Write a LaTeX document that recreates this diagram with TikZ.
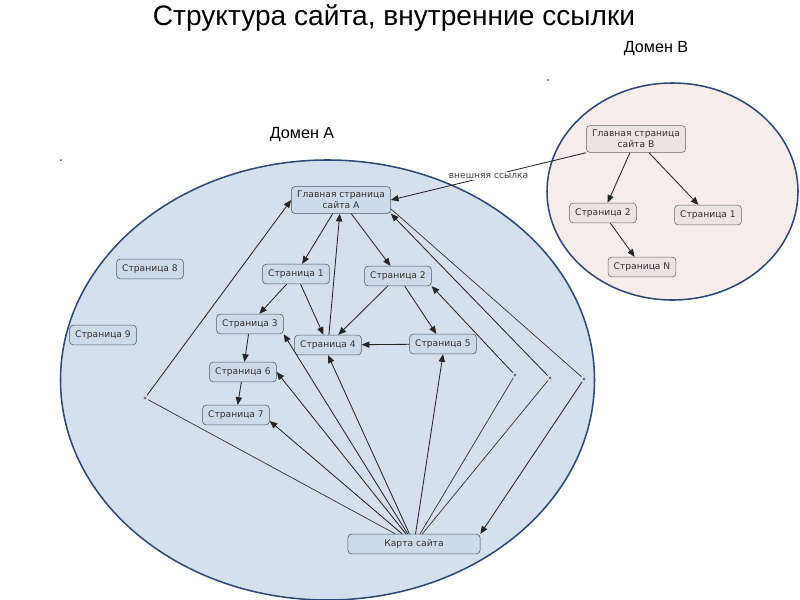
\documentclass[tikz,border=0pt]{standalone}
\usepackage{fontspec}
\setmainfont{Liberation Sans}
\newfontfamily\mapfont{DejaVu Sans}
\usetikzlibrary{arrows.meta,positioning}

\definecolor{domAfill}{HTML}{D5E0EE}
\definecolor{domBfill}{HTML}{F8EDEB}
\definecolor{domline}{HTML}{2F4A78}
\definecolor{pageAfill}{HTML}{CDDAEA}
\definecolor{pageBfill}{HTML}{EBE4E3}
\definecolor{pageline}{HTML}{4A5868}

\begin{document}
\begin{tikzpicture}[x=0.025cm,y=-0.025cm]
\tikzstyle{page}=[draw=pageline, fill=pageAfill, rounded corners=2.5pt, font=\mapfont\fontsize{6.5}{7.6}\selectfont, text=black!80, inner xsep=4pt, minimum height=14pt, align=center]
\tikzstyle{pageB}=[page, fill=pageBfill, draw=black!60]
\tikzstyle{link}=[-{Triangle[length=5.5pt,width=4.5pt]}, draw=black!85, line width=0.6pt]
\tikzstyle{plain}=[draw=black!80, line width=0.5pt]
\tikzstyle{hub}=[circle, fill=black!55, inner sep=0pt, minimum size=2.2pt, outer sep=1.3pt]

\useasboundingbox (0,0) rectangle (800,599);

%% ========== TITLE ==========
\node[font=\fontsize{20}{24}\selectfont] (title) at (394,18) {Структура сайта, внутренние ссылки};

%% ========== DOMAINS ==========
\filldraw[fill=domAfill, draw=domline, line width=1.1pt] (327.5,380) ellipse [x radius=267, y radius=220];
\filldraw[fill=domBfill, draw=domline, line width=1.1pt] (672.5,191.5) ellipse [x radius=125.5, y radius=108.5];
\node[font=\fontsize{11.5}{14}\selectfont] (domA) at (302,135) {Домен А};
\node[font=\fontsize{11.5}{14}\selectfont] (domB) at (656,49) {Домен В};
\fill[black!70] (61,160) circle [radius=1];
\fill[black!70] (548,80) circle [radius=1];

%% ========== DOMAIN A PAGES ==========
\node[page] (mainA) at (341,200) {Главная страница\\сайта А};
\node[page] (p1) at (296,274) {Страница 1};
\node[page] (p2) at (398,276) {Страница 2};
\node[page] (p3) at (250,324) {Страница 3};
\node[page] (p4) at (328,345) {Страница 4};
\node[page] (p5) at (443,344) {Страница 5};
\node[page] (p6) at (243,372) {Страница 6};
\node[page] (p7) at (236,415) {Страница 7};
\node[page] (p8) at (150,269) {Страница 8};
\node[page] (p9) at (103,335) {Страница 9};
\node[page, minimum width=94pt] (sitemap) at (414,544) {Карта сайта};

% bend points of the sitemap links
\node[hub] (hubL) at (145,398) {};
\node[hub] (hubR1) at (515,375) {};
\node[hub] (hubR2) at (550,378) {};
\node[hub] (hubR3) at (584,379) {};

%% ========== DOMAIN B PAGES ==========
\node[pageB] (mainB) at (636,139) {Главная страница\\сайта В};
\node[pageB] (pB2) at (603,213) {Страница 2};
\node[pageB] (pB1) at (708,215) {Страница 1};
\node[pageB] (pN) at (642,267) {Страница N};

%% ========== CONNECTIONS ==========
% Tree of domain A
\draw[link] (mainA) -- (p1);
\draw[link] (mainA) -- (p2);
\draw[link] (p1) -- (p3);
\draw[link] (p1) -- (p4);
\draw[link] (p2) -- (p4);
\draw[link] (p2) -- (p5);
\draw[link] (p4) -- (mainA);
\draw[link] (p5) -- (p4);
\draw[link] (p3) -- (p6);
\draw[link] (p6) -- (p7);

% Sitemap links
\draw[plain] (sitemap) -- (hubL);
\draw[link] (hubL) -- (mainA.west);
\draw[link] (sitemap) -- (p3.south east);
\draw[link] (sitemap) -- (p6.east);
\draw[link] (sitemap) -- (p7.-10);
\draw[link] (sitemap) -- (p4.south);
\draw[link] (sitemap) -- (p5.south);
\draw[plain] (sitemap) -- (hubR1);
\draw[link] (hubR1) -- (p2.south east);
\draw[plain] (sitemap) -- (hubR2);
\draw[link] (hubR2) -- (mainA.south east);
\draw[plain] (mainA.-10) -- (hubR3);
\draw[link] (hubR3) -- (sitemap.north east);

% Tree of domain B
\draw[link] (mainB) -- (pB2);
\draw[link] (mainB) -- (pB1);
\draw[link] (pB2) -- (pN);

% External link
\draw[link] (mainB.south west) -- node[pos=0.5, fill=white, inner sep=1pt, font=\mapfont\fontsize{6.5}{7.6}\selectfont, text=black!75] (extlabel) {внешняя ссылка} (mainA.east);

\end{tikzpicture}
\end{document}
